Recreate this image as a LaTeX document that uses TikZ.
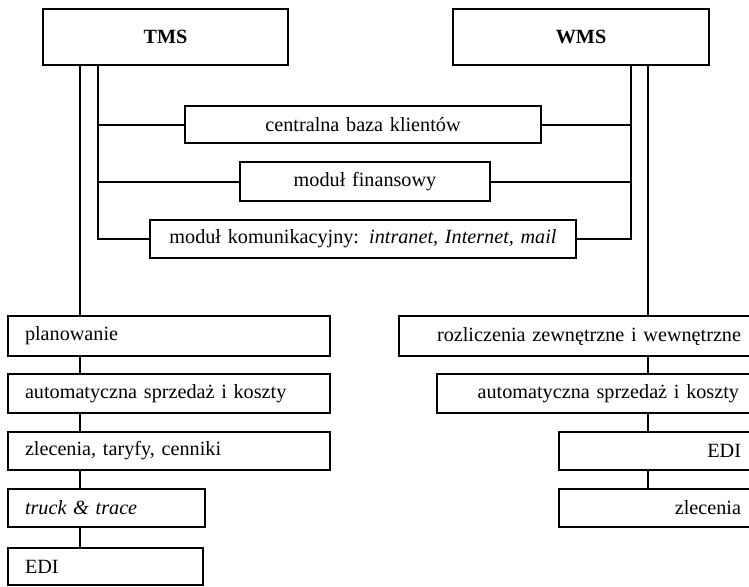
\documentclass[tikz,border=0pt]{standalone}
\usepackage{fontspec}
\setmainfont{Liberation Serif}
\begin{document}
\begin{tikzpicture}[x=1pt,y=-1pt,
  every node/.style={font=\fontsize{20.2}{24}\selectfont},
  box/.style={draw, line width=2pt, inner ysep=0pt, inner xsep=0pt, anchor=center},
  lbox/.style={box, inner xsep=17pt, align=left},
  rbox/.style={box, inner xsep=19pt, align=right},
  conn/.style={line width=2pt},
]
\useasboundingbox (0,0) rectangle (749,586);
\clip (0,0) rectangle (749,586);
% top systems
\node[box, minimum width=245, minimum height=56, text width=245, align=center] (tms) at (165.5,37) {\textbf{TMS}};
\node[box, minimum width=256, minimum height=56, text width=256, align=center] (wms) at (581,37) {\textbf{WMS}};
% shared modules
\node[box, minimum width=356, minimum height=37, text width=356, align=center] (cbk) at (363,124.5) {centralna baza klientów};
\node[box, minimum width=250, minimum height=39, text width=250, align=center] (fin) at (365,181.5) {moduł finansowy};
\node[box, minimum width=426, minimum height=38, text width=426, align=center] (kom) at (363,239) {moduł komunikacyjny: \textit{intranet, Internet, mail}};
% TMS modules
\node[lbox, minimum height=40, text width=288] (plan) at (169,336) {planowanie};
\node[lbox, minimum height=39, text width=288] (aut) at (169,393.5) {automatyczna sprzedaż i koszty};
\node[lbox, minimum height=38, text width=288] (zle) at (169,451) {zlecenia, taryfy, cenniki};
\node[lbox, minimum height=38, text width=163] (trk) at (106.5,508) {\textit{truck \& trace}};
\node[lbox, minimum height=37, text width=161] (edi) at (105.5,566.5) {EDI};
% WMS modules
\node[rbox, minimum height=40, text width=323] (roz) at (579.5,336) {rozliczenia zewnętrzne i wewnętrzne};
\node[rbox, minimum height=39, text width=283] (aut2) at (597.5,393.5) {automatyczna sprzedaż i koszty};
\node[rbox, minimum height=38, text width=163] (edi2) at (659.5,451) {EDI};
\node[rbox, minimum height=38, text width=163] (zle2) at (659.5,508) {zlecenia};
% line positions
\coordinate (lo) at (80,0);
\coordinate (li) at (98,0);
\coordinate (ri) at (631,0);
\coordinate (ro) at (648,0);
% TMS connectors
\draw[conn] (tms.south -| lo) -- (plan.north -| lo);
\draw[conn] (plan.south -| lo) -- (aut.north -| lo);
\draw[conn] (aut.south -| lo) -- (zle.north -| lo);
\draw[conn] (zle.south -| lo) -- (trk.north -| lo);
\draw[conn] (trk.south -| lo) -- (edi.north -| lo);
\draw[conn] (tms.south -| li) -- (kom.west -| li) -- (kom.west);
\draw[conn] (cbk.west) -- (cbk.west -| li);
\draw[conn] (fin.west) -- (fin.west -| li);
% WMS connectors
\draw[conn] (wms.south -| ri) -- (kom.east -| ri) -- (kom.east);
\draw[conn] (cbk.east) -- (cbk.east -| ri);
\draw[conn] (fin.east) -- (fin.east -| ri);
\draw[conn] (wms.south -| ro) -- (roz.north -| ro);
\draw[conn] (roz.south -| ro) -- (aut2.north -| ro);
\draw[conn] (aut2.south -| ro) -- (edi2.north -| ro);
\draw[conn] (edi2.south -| ro) -- (zle2.north -| ro);
\end{tikzpicture}
\end{document}
